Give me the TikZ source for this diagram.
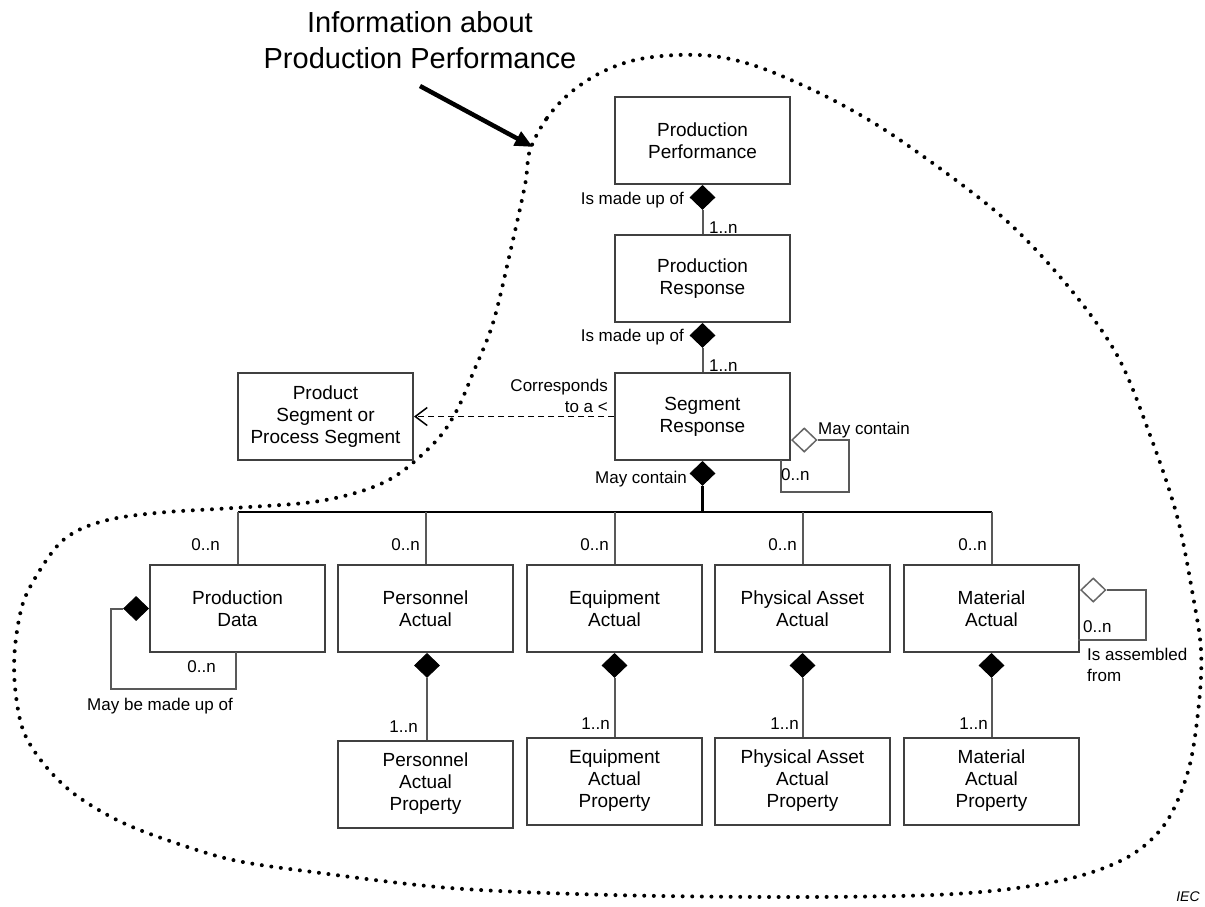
\documentclass[tikz,border=0pt]{standalone}
\usepackage{fontspec}
\setmainfont{Liberation Sans}
\usetikzlibrary{arrows.meta,shapes.geometric}

\newcommand{\entityfont}{\fontsize{19}{22}\selectfont}
\newcommand{\lblfont}{\fontsize{17}{21}\selectfont}

\begin{document}
\begin{tikzpicture}[x=1pt, y=-1pt,
                    align=center,
                    entity/.style={draw=black!75, line width=2pt, fill=white,
                                   minimum width=175pt, minimum height=87pt, font=\entityfont},
                    comp/.style={diamond, draw, fill=black, line width=.8pt,
                                 minimum width=25pt, minimum height=24pt, inner sep=0pt},
                    aggr/.style={diamond, draw=black!60, fill=white, line width=1.5pt,
                                 minimum width=25pt, minimum height=24pt, inner sep=0pt},
                    link/.style={draw=black!65, line width=2pt},
                    bus/.style={draw=black, line width=2.5pt},
                    lab/.style={font=\lblfont, inner sep=0pt},
                    boundary/.style={line width=4pt, line cap=round, dash pattern=on 0pt off 9.6pt}]
          \useasboundingbox (0,0) rectangle (1205,906);
          \coordinate (arrow_start) at (420,86);
          \coordinate (arrow_tip) at (533,147);
          \coordinate (bus) at (702.5,512);
          \draw[boundary] plot[smooth cycle, tension=.55] coordinates {
            (530,150) (547,118) (570,93) (600,73) (635,60) (677,55) (720,57) (767,70)
            (833,100) (900,140) (1000,215) (1067,285) (1117,355) (1150,435) (1177,516)
            (1193,596) (1201,650) (1199,703) (1189,768) (1167,821) (1133,854) (1083,875)
            (1017,888) (933,895) (790,897) (612,895) (450,888) (313,872) (233,860)
            (167,840) (117,820) (73,793) (43,763) (23,730) (15,687) (15,647) (23,603)
            (40,570) (60,543) (83,528) (117,518) (167,512) (233,508) (313,502) (365,490)
            (400,473) (437,440) (457,410) (473,373) (493,323) (510,253) (525,185)};
          \node[font=\fontsize{29}{36}\selectfont, inner sep=0pt] (title) at (420,40) {Information about\\Production Performance};
          \draw[line width=4.5pt, -{Triangle[length=18pt,width=15pt]}] (arrow_start) -- (arrow_tip);
          \node[entity] (production_performance) at (702.5,140.5) {Production\\Performance};
          \node[entity] (production_response) at (702.5,278.5) {Production\\Response};
          \node[entity] (segment_response) at (702.5,416.5) {Segment\\Response};
          \node[entity] (product_segment) at (325.5,416.5) {Product\\Segment or\\Process Segment};
          \node[entity] (production_data) at (237.5,608.5) {Production\\Data};
          \node[entity] (personnel_actual) at (425.5,608.5) {Personnel\\Actual};
          \node[entity] (equipment_actual) at (614.5,608.5) {Equipment\\Actual};
          \node[entity] (physical_asset_actual) at (802.5,608.5) {Physical Asset\\Actual};
          \node[entity] (material_actual) at (991.5,608.5) {Material\\Actual};
          \node[entity] (personnel_property) at (425.5,784) {Personnel\\Actual\\Property};
          \node[entity] (equipment_property) at (614.5,781) {Equipment\\Actual\\Property};
          \node[entity] (physical_asset_property) at (802.5,781) {Physical Asset\\Actual\\Property};
          \node[entity] (material_property) at (991.5,781) {Material\\Actual\\Property};
          \node[comp, anchor=north] (pp_diamond) at (production_performance.south) {};
          \node[comp, anchor=north] (pr_diamond) at (production_response.south) {};
          \node[comp, anchor=north] (sr_diamond) at (segment_response.south) {};
          \node[comp, anchor=north] (pa_diamond) at ([xshift=1.5pt]personnel_actual.south) {};
          \node[comp, anchor=north] (ea_diamond) at (equipment_actual.south) {};
          \node[comp, anchor=north] (paa_diamond) at (physical_asset_actual.south) {};
          \node[comp, anchor=north] (ma_diamond) at (material_actual.south) {};
          \node[comp, anchor=east] (pd_loop) at (production_data.west) {};
          \node[aggr, anchor=west] (sr_loop) at ([yshift=-23.5pt]segment_response.east) {};
          \node[aggr, anchor=west] (ma_loop) at ([yshift=18.5pt]material_actual.east) {};
          \draw[link] (pp_diamond) -- (production_response);
          \draw[link] (pr_diamond) -- (segment_response);
          \draw[bus] (sr_diamond) -- (bus);
          \draw[bus] (production_data.north |- bus) -- (material_actual.north |- bus);
          \foreach \entity in {production_data, personnel_actual, equipment_actual, physical_asset_actual, material_actual}
            \draw[link] (\entity.north |- bus) -- (\entity.north);
          \draw[link] (pa_diamond) -- (pa_diamond |- personnel_property.north);
          \draw[link] (ea_diamond) -- (equipment_property);
          \draw[link] (paa_diamond) -- (physical_asset_property);
          \draw[link] (ma_diamond) -- (material_property);
          \draw[link] (sr_loop.east) -- ++(31,0) |- ++(-68,52) -- ++(0,-32);
          \draw[link] (pd_loop.west) -- ++(-12,0) |- ++(125,80) -- ++(0,-37);
          \draw[link] (ma_loop.east) -- ++(39,0) |- ++(-68,50);
          \draw[line width=1.5pt, dash pattern=on 6pt off 4pt, -{Straight Barb[length=12pt,width=18pt]}]
            (segment_response) -- (product_segment);
          \node[lab, anchor=east] (pp_role) at (684,200) {Is made up of};
          \node[lab, anchor=south west] (pp_mult) at (709,234) {1..n};
          \node[lab, anchor=east] (pr_role) at (684,337) {Is made up of};
          \node[lab, anchor=south west] (pr_mult) at (709,372) {1..n};
          \node[lab, anchor=east, align=right] (corresponds) at (608,396) {Corresponds\\to a <};
          \node[lab, anchor=east] (sr_role) at (687,479) {May contain};
          \node[lab, anchor=west] (sr_loop_role) at (818,430) {May contain};
          \node[lab, anchor=west] (sr_loop_mult) at (781,475) {0..n};
          \node[lab, anchor=east] (pd_mult) at (220,545) {0..n};
          \node[lab, anchor=east] (pa_mult) at (420,545) {0..n};
          \node[lab, anchor=east] (ea_mult) at (609,545) {0..n};
          \node[lab, anchor=east] (paa_mult) at (797,545) {0..n};
          \node[lab, anchor=east] (ma_mult) at (987,545) {0..n};
          \node[lab, anchor=east] (pd_loop_mult) at (216,667) {0..n};
          \node[lab] (pd_loop_role) at (160,706) {May be made up of};
          \node[lab, anchor=west] (ma_loop_mult) at (1083,627) {0..n};
          \node[lab, anchor=north west, align=left] (ma_loop_role) at (1087,648) {Is assembled\\from};
          \node[lab, anchor=east] (pap_mult) at (418,727) {1..n};
          \node[lab, anchor=east] (eap_mult) at (610,724) {1..n};
          \node[lab, anchor=east] (paap_mult) at (799,724) {1..n};
          \node[lab, anchor=east] (map_mult) at (988,724) {1..n};
          \node[font=\fontsize{14}{16}\selectfont\itshape, inner sep=0pt] (iec) at (1188,897) {IEC};
        \end{tikzpicture}
\end{document}
